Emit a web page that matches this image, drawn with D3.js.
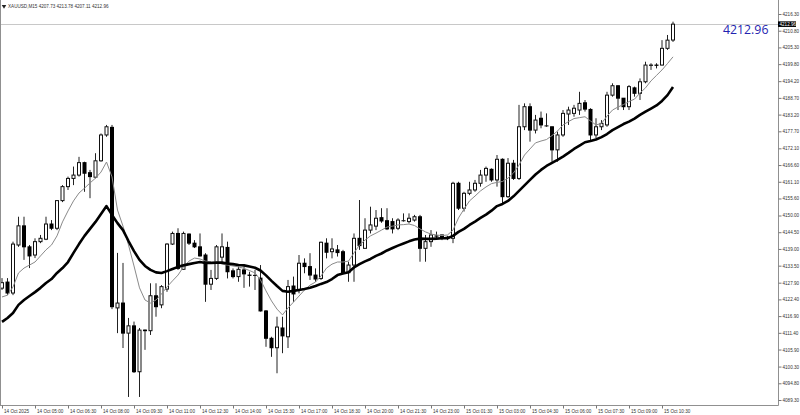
<!DOCTYPE html>
<html><head><meta charset="utf-8">
<script src="https://cdn.jsdelivr.net/npm/d3@7/dist/d3.min.js"></script>
<style>html,body{margin:0;padding:0;background:#fff;overflow:hidden}svg{display:block}</style>
</head><body><svg id="c" width="800" height="415"></svg>
<script>
const symbol = "XAUUSD,M15";
const lastOHLC = [4207.73, 4213.78, 4207.11, 4212.96];
const opens = [4126.1,4128.1,4124.5,4140.3,4146.6,4139.7,4137.0,4141.4,4142.2,4147.2,4145.8,4154.9,4159.5,4162.2,4163.3,4167.4,4164.1,4162.6,4168.0,4176.5,
4179.0,4119.6,4121.2,4111.3,4113.7,4098.6,4112.3,4112.1,4123.6,4120.6,4125.8,4140.6,4144.1,4132.3,4143.9,4140.9,4139.7,4137.0,4127.4,4129.3,
4136.3,4139.5,4131.8,4129.9,4132.1,4130.4,4130.3,4129.4,4118.6,4109.6,4106.5,4113.0,4110.1,4126.8,4125.5,4134.3,4133.2,4130.4,4129.3,4140.9,
4138.1,4138.7,4138.1,4131.2,4133.7,4142.5,4139.2,4145.2,4146.5,4149.3,4148.3,4148.0,4145.8,4148.3,4148.0,4148.5,4149.6,4139.2,4141.4,4143.3,
4143.6,4142.8,4142.5,4160.6,4152.4,4157.3,4158.4,4160.6,4163.3,4165.2,4161.7,4168.5,4156.2,4167.2,4162.2,4179.2,4185.8,4178.1,4182.0,4179.5,
4179.2,4171.6,4176.5,4183.4,4183.6,4184.7,4187.1,4184.9,4176.5,4179.2,4179.8,4189.6,4192.7,4188.6,4185.8,4192.0,4190.2,4194.0,4199.4,4199.5,
4199.5,4205.0,4207.73];
const highs = [4129.4,4129.4,4141.4,4149.6,4149.6,4140.3,4142.5,4143.6,4149.6,4148.5,4155.1,4160.0,4162.8,4166.1,4169.3,4167.7,4165.0,4170.5,4177.0,4179.8,
4179.8,4137.7,4134.4,4116.3,4115.1,4113.0,4112.5,4127.7,4127.7,4127.1,4140.9,4144.7,4145.8,4144.7,4144.1,4141.9,4144.1,4137.6,4132.1,4140.3,
4144.1,4141.4,4132.6,4133.2,4133.2,4131.5,4132.1,4133.7,4118.9,4110.1,4116.7,4116.7,4128.8,4129.9,4137.0,4135.9,4137.6,4132.6,4141.4,4142.5,
4142.5,4140.3,4138.7,4134.8,4144.1,4155.1,4149.1,4152.9,4151.8,4152.4,4152.4,4149.1,4149.1,4150.7,4150.7,4150.2,4150.2,4143.6,4145.2,4144.7,
4143.7,4143.3,4161.1,4161.1,4157.8,4161.1,4161.7,4165.0,4166.1,4165.5,4169.9,4168.8,4168.9,4168.3,4186.4,4186.9,4186.9,4183.1,4184.2,4183.6,
4179.3,4177.6,4184.7,4185.8,4186.4,4190.7,4188.0,4185.3,4182.0,4181.4,4190.7,4193.5,4192.9,4188.6,4192.9,4192.4,4195.1,4200.6,4200.1,4200.1,
4207.7,4209.4,4213.78];
const lows = [4125.5,4123.8,4123.8,4139.7,4135.4,4132.7,4136.0,4140.9,4141.9,4145.2,4145.2,4154.4,4158.4,4160.0,4162.8,4157.8,4155.7,4162.2,4167.7,4175.9,
4119.2,4111.3,4106.4,4090.3,4098.2,4090.3,4105.8,4110.7,4116.7,4119.5,4124.9,4140.3,4132.1,4132.1,4140.3,4139.3,4136.5,4121.6,4125.5,4128.8,
4134.3,4129.3,4129.3,4128.2,4126.2,4126.6,4125.5,4118.4,4106.8,4103.5,4098.1,4104.7,4106.4,4121.6,4124.4,4131.0,4128.8,4128.2,4128.8,4135.9,
4135.9,4136.5,4130.8,4128.2,4128.2,4138.7,4139.2,4144.1,4145.2,4147.6,4145.2,4144.1,4145.2,4148.0,4147.4,4148.0,4134.8,4134.8,4139.7,4142.5,
4141.9,4141.9,4140.9,4151.8,4151.3,4156.7,4157.8,4159.5,4161.1,4161.1,4159.5,4154.0,4155.8,4161.7,4161.7,4178.1,4174.3,4177.0,4178.7,4179.2,
4167.7,4167.7,4175.9,4179.8,4182.5,4183.1,4184.2,4174.3,4175.4,4178.1,4179.2,4189.1,4184.7,4184.7,4184.7,4189.1,4188.0,4193.5,4197.9,4198.4,
4199.4,4204.5,4207.11];
const closes = [4127.9,4124.5,4140.6,4146.6,4139.7,4136.7,4141.4,4142.5,4147.2,4145.8,4154.9,4159.5,4162.2,4163.3,4167.4,4163.9,4162.8,4168.0,4176.5,4179.2,
4120.0,4121.2,4111.3,4113.7,4098.6,4112.3,4112.1,4123.6,4120.0,4126.6,4140.6,4144.1,4132.6,4144.1,4140.9,4139.7,4136.7,4127.4,4129.3,4139.7,
4139.7,4131.5,4129.9,4132.3,4130.8,4130.3,4130.3,4118.6,4109.6,4106.5,4113.3,4110.4,4126.6,4124.2,4134.3,4133.2,4130.4,4129.1,4141.2,4137.9,
4139.0,4137.8,4131.0,4133.7,4142.5,4140.1,4145.2,4146.9,4149.1,4148.2,4145.6,4145.6,4148.5,4148.3,4149.1,4149.6,4139.2,4141.4,4143.6,4143.2,
4142.5,4142.9,4160.6,4152.4,4157.3,4158.4,4160.6,4163.3,4165.5,4161.7,4168.5,4156.2,4167.2,4162.2,4179.2,4185.8,4178.1,4181.4,4179.8,4179.5,
4171.6,4176.5,4183.6,4184.7,4185.3,4186.9,4185.0,4176.5,4179.2,4180.3,4189.6,4192.7,4188.6,4185.8,4192.4,4190.2,4194.0,4199.5,4199.5,4199.4,
4205.0,4207.7,4212.96];
const maFast = [4123.2,4123.8,4126.5,4131.1,4132.7,4133.7,4134.7,4136.7,4138.7,4140.3,4143.3,4147.9,4151.5,4154.8,4157.4,4159.0,4160.7,4162.3,4164.3,4167.6,
4162.7,4151.8,4146.5,4140.3,4133.4,4126.2,4122.2,4121.2,4122.2,4124.2,4126.5,4128.5,4130.4,4133.1,4135.0,4136.0,4135.7,4135.0,4134.7,4134.7,
4134.0,4133.7,4133.4,4133.1,4132.6,4131.9,4131.1,4128.8,4125.2,4121.9,4119.2,4117.3,4119.6,4121.5,4123.5,4125.5,4127.1,4128.1,4130.1,4132.7,
4134.0,4134.7,4134.7,4135.0,4137.7,4140.3,4141.9,4143.3,4144.2,4145.2,4146.2,4146.5,4146.9,4147.0,4147.2,4146.7,4145.6,4144.6,4143.9,4143.6,
4143.4,4143.6,4145.2,4149.2,4152.1,4154.8,4156.4,4158.1,4159.4,4160.5,4160.9,4161.2,4162.3,4164.0,4166.6,4169.9,4171.9,4173.9,4174.5,4175.0,
4176.3,4177.8,4179.8,4180.9,4181.9,4182.2,4182.5,4181.1,4179.8,4180.3,4182.7,4184.7,4185.7,4186.5,4187.5,4188.3,4190.3,4192.0,4194.3,4196.1,
4197.9,4200.0,4202.2];
const maSlow = [4115.0,4116.3,4117.9,4120.6,4122.2,4123.5,4124.8,4126.2,4127.8,4129.1,4131.1,4132.7,4134.7,4137.7,4140.6,4143.3,4145.6,4147.9,4150.5,4153.1,
4150.2,4147.5,4145.2,4141.6,4138.3,4135.4,4133.4,4132.1,4131.3,4131.1,4131.7,4132.4,4133.1,4133.6,4134.0,4134.4,4134.7,4134.4,4134.4,4134.5,
4134.5,4134.2,4134.0,4133.7,4133.6,4133.2,4132.8,4131.9,4130.3,4128.5,4126.8,4125.2,4124.9,4125.2,4125.5,4125.8,4126.2,4126.8,4127.5,4128.1,
4129.1,4130.4,4130.9,4131.3,4132.9,4134.0,4134.9,4135.7,4136.7,4137.5,4138.5,4139.3,4140.1,4140.8,4141.5,4142.1,4142.4,4142.3,4142.3,4142.4,
4142.5,4142.5,4143.3,4144.6,4145.6,4146.9,4148.0,4149.2,4150.3,4151.6,4153.1,4153.8,4154.8,4156.3,4158.1,4159.9,4161.7,4163.5,4165.0,4166.3,
4167.3,4168.3,4169.4,4170.6,4171.9,4173.0,4174.1,4174.5,4175.0,4175.8,4176.8,4178.1,4179.1,4180.1,4180.9,4181.9,4183.1,4184.2,4185.2,4186.2,
4187.7,4189.6,4192.3];
const tickBars = [0,6,12,18,24,30,36,42,48,54,60,66,72,78,84,90,96,102,108,114,120];
const tickLabels = ["14 Oct 2025","14 Oct 05:00","14 Oct 06:30","14 Oct 08:00","14 Oct 09:30","14 Oct 11:00","14 Oct 12:30","14 Oct 14:00","14 Oct 15:30","14 Oct 17:00","14 Oct 18:30","14 Oct 20:00","14 Oct 21:30","14 Oct 23:00","15 Oct 01:30","15 Oct 03:00","15 Oct 04:30","15 Oct 06:00","15 Oct 07:30","15 Oct 09:00","15 Oct 10:30"];
const priceTicks = [4216.30,4210.80,4205.30,4199.80,4194.20,4188.70,4183.20,4177.70,4172.10,4166.60,4161.10,4155.60,4150.00,4144.50,4139.00,4133.50,4127.90,4122.40,4116.90,4111.40,4105.90,4100.30,4094.80,4089.30];

const W = 800, H = 415, plotR = 778, plotB = 405;
const svg = d3.select("#c");
const font = "'Liberation Sans', Arial, sans-serif";
const n = opens.length;
const x = d3.scaleLinear().domain([0, n - 1]).range([2, 673]);
const y = d3.scaleLinear().domain([4089.30, 4216.30]).range([400, 14]);

const candles = d3.range(n).map(i => ({i, o: opens[i], h: highs[i], l: lows[i], c: closes[i]}));
const plot = svg.append("g");

// current price line
const last = closes[n - 1];
plot.append("line").attr("x1", 0).attr("x2", plotR).attr("y1", Math.round(y(last)) + 0.5).attr("y2", Math.round(y(last)) + 0.5)
  .attr("stroke", "#c8c8c8").attr("stroke-width", 1);

// wicks
plot.append("g").selectAll("line").data(candles).join("line")
  .attr("x1", d => x(d.i)).attr("x2", d => x(d.i))
  .attr("y1", d => y(d.h)).attr("y2", d => y(d.l))
  .attr("stroke", "#222").attr("stroke-width", 1);

// bodies
plot.append("g").selectAll("rect").data(candles).join("rect")
  .attr("x", d => d.c >= d.o ? x(d.i) - 1.5 : x(d.i) - 2)
  .attr("width", d => d.c >= d.o ? 3 : 4)
  .attr("y", d => { const t = y(Math.max(d.o, d.c)); return d.c >= d.o ? t : t - 0.5; })
  .attr("height", d => { const hgt = Math.abs(y(d.o) - y(d.c)); return d.c >= d.o ? Math.max(hgt, 0.1) : Math.max(hgt + 1, 1); })
  .attr("fill", d => d.c >= d.o ? "#fff" : "#000")
  .attr("stroke", d => d.c >= d.o ? "#111" : "none")
  .attr("stroke-width", 1);

// moving averages
const line = arr => d3.line().x((d, i) => x(i)).y(d => y(d))(arr);
plot.append("path").attr("d", line(maFast)).attr("fill", "none").attr("stroke", "#8a8a8a").attr("stroke-width", 1);
plot.append("path").attr("d", line(maSlow)).attr("fill", "none").attr("stroke", "#000").attr("stroke-width", 2.6).attr("stroke-linejoin", "round");

// frame
svg.append("line").attr("x1", 0.5).attr("x2", 0.5).attr("y1", 0).attr("y2", plotB).attr("stroke", "#909090");
svg.append("line").attr("x1", 0).attr("x2", plotR + 0.5).attr("y1", plotB + 0.5).attr("y2", plotB + 0.5).attr("stroke", "#909090");
svg.append("line").attr("x1", plotR + 0.5).attr("x2", plotR + 0.5).attr("y1", 0).attr("y2", plotB + 0.5).attr("stroke", "#909090");

// price axis
const yAxis = svg.append("g").attr("transform", `translate(${plotR + 0.5},0)`)
  .call(d3.axisRight(y).tickValues(priceTicks).tickFormat(d3.format(".2f")).tickSize(3).tickPadding(1));
yAxis.select(".domain").remove();
yAxis.selectAll("line").attr("stroke", "#777");
yAxis.selectAll("text").attr("font-family", font).attr("font-size", 4.6).attr("fill", "#333");

// time axis
const xAxis = svg.append("g").attr("transform", `translate(0,${plotB + 0.5})`)
  .call(d3.axisBottom(x).tickValues(tickBars).tickFormat((d, i) => tickLabels[i]).tickSize(3).tickPadding(1));
xAxis.select(".domain").remove();
xAxis.selectAll("line").attr("stroke", "#777");
xAxis.selectAll("text").attr("font-family", font).attr("font-size", 4.6).attr("fill", "#333")
  .attr("text-anchor", "start").attr("dx", 1.5);

// current price tag on axis
const fmt = d3.format(".2f");
svg.append("rect").attr("x", plotR).attr("y", y(last) - 2.8).attr("width", 18).attr("height", 5.6).attr("fill", "#000");
svg.append("text").attr("x", plotR + 1.5).attr("y", y(last)).attr("dy", "0.35em")
  .attr("font-family", font).attr("font-size", 4.6).attr("fill", "#fff").text(fmt(last));

// big price label
svg.append("text").attr("x", 723).attr("y", y(last) + 9.5)
  .attr("font-family", "'Open Sans','DejaVu Sans',sans-serif").attr("font-size", 12.3).attr("fill", "#2323b0").text(fmt(last));

// title
svg.append("path").attr("d", d3.symbol(d3.symbolTriangle, 9)()).attr("transform", "translate(4,6.2) rotate(180)").attr("fill", "#222");
svg.append("text").attr("x", 8).attr("y", 6).attr("dy", "0.35em")
  .attr("font-family", font).attr("font-size", 4.6).attr("fill", "#333")
  .text(`${symbol}  ${lastOHLC.map(fmt).join(" ")}`);
</script></body></html>
